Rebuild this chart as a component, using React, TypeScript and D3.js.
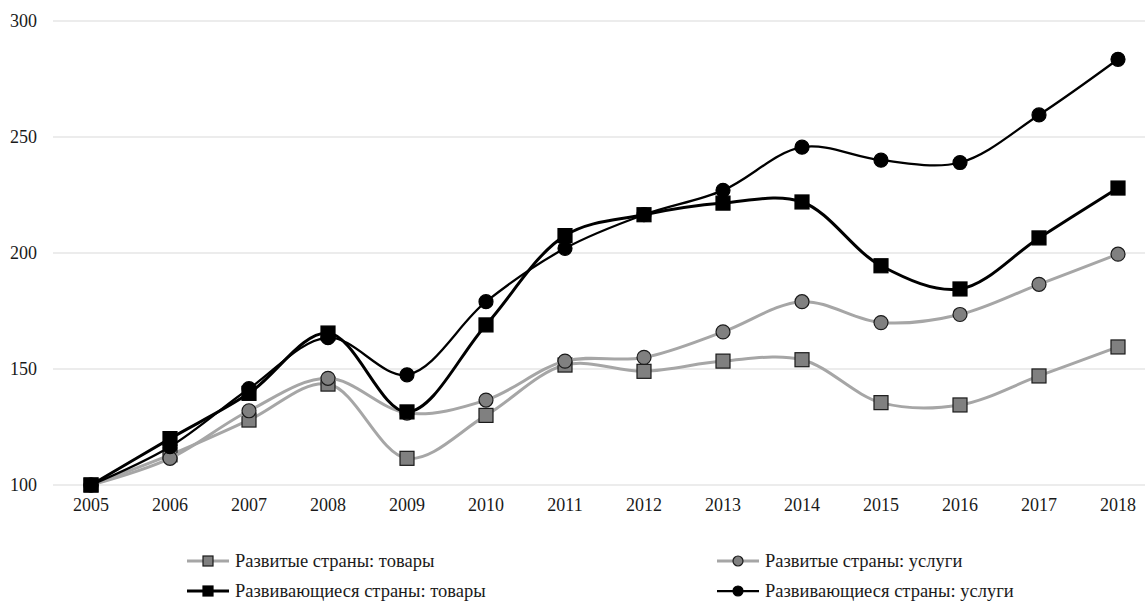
import React from "react";
import * as d3 from "d3";

const years = ["2005","2006","2007","2008","2009","2010","2011","2012","2013","2014","2015","2016","2017","2018"];
const devGoods = [100, 113, 128, 143.5, 111.5, 130, 151.7, 149, 153.4, 154, 135.5, 134.5, 147, 159.5];
const devServices = [100, 111.5, 132, 146, 131, 136.6, 153.4, 155, 166, 179, 170, 173.5, 186.5, 199.5];
const dvgGoods = [100, 120, 139.5, 165.5, 131.5, 169, 207.5, 216.5, 221.5, 222, 194.5, 184.5, 206.5, 228];
const dvgServices = [100, 116.5, 141.5, 163.5, 147.5, 179, 202, 216.5, 227, 245.6, 240, 239, 259.5, 283.5];
const yTicks = [100, 150, 200, 250, 300];
const legendLabels = [
  "Развитые страны: товары",
  "Развитые страны: услуги",
  "Развивающиеся страны: товары",
  "Развивающиеся страны: услуги",
];

const W = 1145, H = 601;
const FONT = "'Liberation Serif', 'Times New Roman', serif";

export default function App() {
  const x = d3.scalePoint<string>().domain(years).range([91, 1118]);
  const y = d3.scaleLinear().domain([100, 300]).range([485, 21]);
  const line = d3
    .line<number>()
    .x((_, i) => x(years[i]) as number)
    .y((d) => y(d))
    .curve(d3.curveCatmullRom.alpha(0.5));

  const series = [
    { data: devGoods, color: "#a6a6a6", width: 3, marker: "square", fill: "#808080", mstroke: "#1a1a1a" },
    { data: devServices, color: "#a6a6a6", width: 3, marker: "circle", fill: "#808080", mstroke: "#1a1a1a" },
    { data: dvgGoods, color: "#000", width: 3, marker: "square", fill: "#000", mstroke: "#000" },
    { data: dvgServices, color: "#000", width: 2.25, marker: "circle", fill: "#000", mstroke: "#000" },
  ];

  const marker = (kind: string, cx: number, cy: number, fill: string, stroke: string, size: number, key?: any) =>
    kind === "square" ? (
      <rect key={key} x={cx - size / 2} y={cy - size / 2} width={size} height={size} fill={fill} stroke={stroke} strokeWidth={1.2} />
    ) : (
      <circle key={key} cx={cx} cy={cy} r={size / 2} fill={fill} stroke={stroke} strokeWidth={1.2} />
    );

  const legendPos = [
    { x: 187, y: 561 },
    { x: 717, y: 561 },
    { x: 187, y: 591 },
    { x: 717, y: 591 },
  ];

  return (
    <svg width={W} height={H} style={{ position: "absolute", left: 0, top: 0 }}>
      <rect width={W} height={H} fill="#fff" />
      {yTicks.map((t) => (
        <g key={t}>
          <line x1={53} x2={1145} y1={y(t)} y2={y(t)} stroke="#d9d9d9" strokeWidth={1} />
          <text x={37} y={y(t)} dy="0.35em" textAnchor="end" fontFamily={FONT} fontSize={18} fill="#1a1a1a">
            {t}
          </text>
        </g>
      ))}
      {years.map((yr) => (
        <text key={yr} x={x(yr)} y={505} dy="0.35em" textAnchor="middle" fontFamily={FONT} fontSize={18} fill="#1a1a1a">
          {yr}
        </text>
      ))}
      {series.map((s, si) => (
        <g key={si}>
          <path d={line(s.data) || ""} fill="none" stroke={s.color} strokeWidth={s.width} strokeLinejoin="round" />
          {s.data.map((v, i) => marker(s.marker, x(years[i]) as number, y(v), s.fill, s.mstroke, 14, i))}
        </g>
      ))}
      {series.map((s, si) => {
        const p = legendPos[si];
        return (
          <g key={"l" + si}>
            <line x1={p.x} x2={p.x + 42} y1={p.y} y2={p.y} stroke={s.color} strokeWidth={s.width} />
            {marker(s.marker, p.x + 21, p.y, s.fill, s.mstroke, 10)}
            <text x={p.x + 48} y={p.y} dy="0.35em" fontFamily={FONT} fontSize={18.5} fill="#1a1a1a">
              {legendLabels[si]}
            </text>
          </g>
        );
      })}
    </svg>
  );
}
